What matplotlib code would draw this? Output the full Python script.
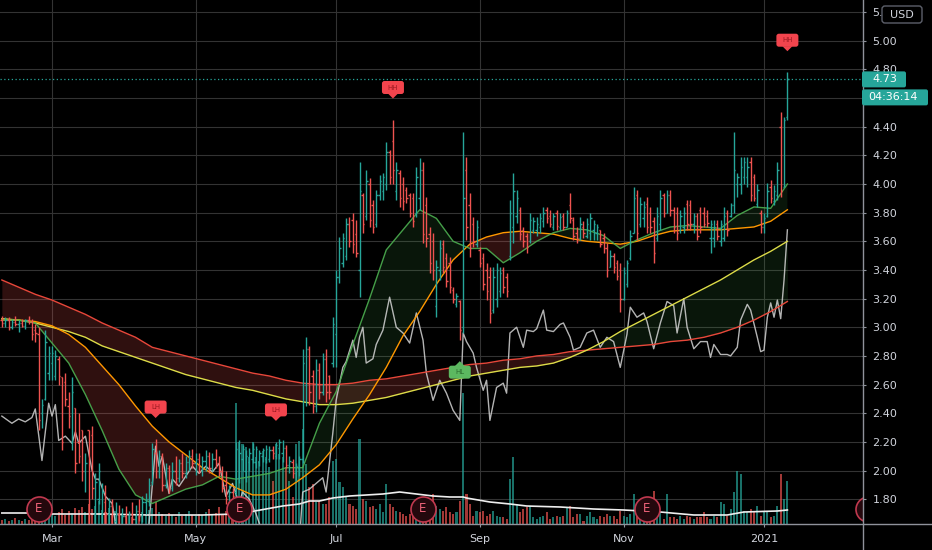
import numpy as np
import pandas as pd
import matplotlib
matplotlib.use("Agg")
import matplotlib.pyplot as plt
from matplotlib.patches import FancyBboxPatch, Polygon
from matplotlib.transforms import IdentityTransform, blended_transform_factory
from matplotlib.lines import Line2D

plt.rcParams['font.family'] = ['DejaVu Sans']

# ---------------- data ----------------
holidays = ["2020-02-17", "2020-04-10", "2020-05-25", "2020-07-03", "2020-09-07",
            "2020-11-26", "2020-12-25", "2021-01-01"]
dates = pd.bdate_range("2020-02-07", "2021-01-13", freq="C", holidays=holidays)

opens = [
    3.05,3.03,3.05,3.00,3.04,3.02,3.03,3.01,3.05,3.04,2.98,2.95,2.40,2.50,2.68,
    2.75,2.66,2.78,2.65,2.62,2.45,2.20,2.44,2.20,2.28,2.00,2.28,2.25,1.70,1.80,1.70,1.78,1.70,1.75,1.65,1.70,1.63,
    1.68,1.60,1.70,1.66,1.72,1.68,1.78,1.80,1.92,2.12,2.00,2.10,1.90,2.02,1.88,2.00,1.95,2.05,1.98,2.06,2.10,
    2.05,2.08,2.00,2.07,2.10,2.02,2.08,2.05,2.00,1.90,1.82,1.85,1.85,1.95,2.08,2.00,2.06,2.08,2.06,2.06,
    2.10,2.08,2.08,2.14,2.10,2.16,2.12,2.16,2.04,2.06,1.98,2.02,2.08,2.60,2.85,2.66,2.45,2.70,2.55,2.78,2.66,2.75,
    2.95,3.35,3.45,3.50,3.72,3.75,3.65,3.40,3.92,3.78,4.00,3.85,3.72,3.92,3.95,4.00,4.22,4.30,3.95,4.08,4.00,3.96,
    3.92,3.90,3.80,3.90,4.10,3.85,3.65,3.60,3.15,3.40,3.58,3.48,3.45,3.26,3.16,3.18,3.00,4.10,3.85,3.72,3.58,
    3.54,3.48,3.40,3.35,3.12,3.20,3.25,3.40,3.35,3.50,3.70,3.78,3.82,3.68,3.64,3.60,3.68,3.68,3.70,3.74,3.82,
    3.78,3.70,3.80,3.70,3.78,3.70,3.85,3.75,3.66,3.62,3.70,3.64,3.66,3.68,3.66,3.68,3.62,3.55,3.42,3.50,3.45,3.40,
    3.20,3.30,3.48,3.66,3.92,3.72,3.76,3.86,3.80,3.74,3.62,3.72,3.92,3.80,3.92,3.82,3.80,3.68,3.70,3.86,
    3.85,3.72,3.78,3.82,3.80,3.78,3.62,3.62,3.72,3.60,3.62,3.80,3.78,3.85,4.00,4.00,4.05,4.05,4.15,4.05,3.86,3.80,
    3.70,3.78,3.98,3.88,3.92,4.40,3.98,4.47]
highs = [
    3.08,3.07,3.07,3.06,3.08,3.05,3.06,3.06,3.08,3.06,3.02,3.00,2.50,2.98,2.87,
    2.87,2.84,2.80,2.65,2.68,2.55,2.65,2.44,2.40,2.28,2.12,2.28,2.31,1.98,2.05,1.91,1.90,1.81,1.80,1.78,1.76,1.74,
    1.75,1.72,1.78,1.76,1.80,1.82,1.84,1.95,2.19,2.22,2.14,2.12,2.05,2.04,2.06,2.10,2.08,2.12,2.10,2.14,2.15,
    2.12,2.12,2.10,2.14,2.13,2.12,2.15,2.10,2.03,2.00,1.90,1.88,2.20,2.21,2.18,2.14,2.16,2.19,2.17,2.14,
    2.16,2.18,2.17,2.17,2.20,2.22,2.21,2.18,2.10,2.08,2.05,2.10,2.85,2.93,2.87,2.70,2.78,2.75,2.82,2.85,2.67,3.07,
    3.40,3.63,3.66,3.76,3.77,3.80,3.75,4.15,3.94,4.10,4.04,3.89,3.96,4.06,4.08,4.29,4.24,4.45,4.15,4.10,4.05,3.98,
    3.94,3.94,4.12,4.18,4.15,3.91,3.70,3.66,3.47,3.61,3.61,3.52,3.49,3.28,3.24,3.19,4.36,4.19,3.94,3.77,3.75,
    3.56,3.52,3.45,3.42,3.42,3.45,3.42,3.42,3.38,3.89,4.08,3.96,3.84,3.70,3.66,3.80,3.77,3.77,3.80,3.84,3.84,
    3.82,3.80,3.82,3.80,3.80,3.82,3.94,3.77,3.70,3.77,3.74,3.76,3.80,3.75,3.72,3.68,3.66,3.59,3.54,3.52,3.47,3.45,
    3.42,3.47,3.68,3.98,3.96,3.91,3.88,3.91,3.84,3.77,3.84,3.96,3.94,3.96,3.96,3.84,3.84,3.82,3.84,3.89,
    3.89,3.80,3.80,3.84,3.84,3.82,3.75,3.75,3.75,3.75,3.84,3.82,3.87,4.36,4.08,4.19,4.19,4.19,4.19,4.07,4.00,3.82,
    3.80,4.01,4.03,3.99,4.15,4.50,4.47,4.78]
lows = [
    3.00,3.00,2.98,2.99,3.01,2.97,3.00,2.99,3.02,2.91,2.90,2.28,2.30,2.49,2.63,
    2.63,2.63,2.60,2.14,2.45,2.30,2.14,1.98,2.05,1.93,1.85,1.55,1.80,1.58,1.77,1.55,1.62,1.60,1.58,1.55,1.58,1.55,
    1.57,1.56,1.62,1.60,1.65,1.64,1.70,1.75,1.90,1.95,1.95,1.86,1.88,1.84,1.86,1.90,1.92,1.95,1.95,2.00,2.02,
    1.97,1.98,1.96,2.00,1.98,2.00,2.02,1.96,1.85,1.77,1.76,1.77,1.83,1.91,2.00,1.92,2.00,2.05,2.02,2.03,
    2.06,2.05,2.06,2.08,2.08,2.08,2.06,2.02,1.98,1.95,1.93,1.96,2.05,2.45,2.46,2.40,2.41,2.50,2.53,2.48,2.50,2.72,
    2.72,3.31,3.42,3.47,3.56,3.52,3.49,3.21,3.66,3.75,3.70,3.66,3.70,3.89,3.89,3.96,4.00,4.00,3.89,3.84,3.82,3.87,
    3.77,3.70,3.77,3.82,3.59,3.56,3.38,3.33,3.07,3.33,3.38,3.28,3.24,3.17,3.14,2.91,2.96,3.61,3.49,3.56,3.56,
    3.42,3.26,3.19,3.03,3.10,3.14,3.21,3.24,3.21,3.47,3.59,3.73,3.61,3.56,3.52,3.59,3.66,3.64,3.66,3.70,3.73,
    3.70,3.68,3.68,3.68,3.68,3.70,3.73,3.61,3.59,3.61,3.62,3.62,3.61,3.61,3.61,3.56,3.52,3.35,3.42,3.38,3.33,3.11,
    3.19,3.28,3.47,3.66,3.61,3.70,3.70,3.66,3.66,3.45,3.60,3.68,3.77,3.80,3.78,3.66,3.61,3.66,3.66,3.68,
    3.68,3.66,3.61,3.66,3.70,3.70,3.52,3.56,3.61,3.57,3.60,3.64,3.77,3.80,3.91,3.93,4.00,3.98,3.88,3.88,3.84,3.66,
    3.66,3.77,3.87,3.85,3.89,3.91,3.98,4.45]
closes = [
    3.03,3.05,3.00,3.04,3.02,3.03,3.01,3.05,3.04,2.95,2.96,2.35,2.46,2.90,2.82,
    2.82,2.80,2.66,2.20,2.50,2.38,2.55,2.05,2.10,2.00,2.05,1.70,1.88,1.92,2.00,1.85,1.70,1.75,1.62,1.70,1.63,1.68,
    1.60,1.70,1.66,1.72,1.68,1.78,1.80,1.90,2.15,2.00,2.10,1.90,2.02,1.88,2.00,1.95,2.05,1.98,2.06,2.10,2.05,
    2.08,2.00,2.07,2.10,2.02,2.08,2.05,2.00,1.88,1.80,1.85,1.82,2.15,2.12,2.15,2.10,2.12,2.15,2.15,2.12,
    2.14,2.15,2.14,2.12,2.18,2.20,2.16,2.04,2.07,1.98,2.03,2.08,2.75,2.85,2.55,2.45,2.70,2.55,2.78,2.55,2.55,3.02,
    3.35,3.55,3.62,3.72,3.60,3.58,3.52,3.95,3.72,4.02,3.75,3.70,3.92,4.02,4.05,4.22,4.05,4.10,4.10,3.90,3.88,3.90,
    3.80,3.74,4.05,4.10,3.65,3.62,3.45,3.40,3.42,3.55,3.42,3.32,3.28,3.20,3.22,2.98,3.90,3.70,3.55,3.60,3.70,
    3.45,3.30,3.25,3.10,3.35,3.40,3.38,3.28,3.25,3.80,3.95,3.90,3.65,3.60,3.56,3.75,3.74,3.72,3.76,3.80,3.76,
    3.72,3.78,3.71,3.77,3.70,3.80,3.76,3.64,3.62,3.72,3.66,3.72,3.76,3.72,3.70,3.58,3.55,3.40,3.50,3.42,3.36,3.20,
    3.38,3.45,3.64,3.90,3.66,3.86,3.84,3.70,3.70,3.52,3.78,3.90,3.80,3.92,3.82,3.70,3.66,3.78,3.80,3.72,
    3.72,3.78,3.64,3.70,3.72,3.73,3.72,3.70,3.64,3.72,3.78,3.68,3.85,4.10,4.05,4.12,4.15,4.12,3.92,3.90,3.96,3.70,
    3.76,3.95,3.90,3.95,4.10,3.95,4.45,4.73]
volume = [
    4,5,3,4,6,4,3,5,4,6,8,14,9,11,10,
    10,8,12,15,9,13,11,16,14,17,12,20,15,18,23,14,12,16,10,13,9,11,
    8,10,7,9,8,12,10,14,16,22,12,10,8,11,9,7,12,8,10,13,9,
    8,10,9,12,15,9,11,17,10,13,9,12,121,82,80,77,67,82,67,63,
    73,67,57,43,80,70,67,57,43,27,80,83,95,60,37,40,22,23,20,20,27,63,
    65,42,37,28,20,18,15,85,25,23,17,18,15,20,12,40,20,17,13,12,10,8,
    10,12,18,15,12,17,17,30,18,15,13,17,12,10,12,23,131,30,20,8,13,
    12,13,8,10,13,8,7,7,5,45,67,20,12,15,17,18,7,5,7,8,12,
    5,7,8,7,8,17,18,7,10,10,3,8,12,7,5,8,7,10,8,8,5,13,
    8,7,10,30,8,5,7,8,10,33,13,13,5,30,7,7,5,8,5,8,
    7,5,7,7,12,7,5,8,7,22,20,8,15,32,53,50,13,12,15,12,18,8,
    12,13,7,8,18,50,25,43]

# moving averages read at every 5th bar
ma_idx = [0,5,10,15,20,25,30,35,40,45,50,55,60,65,70,75,80,85,90,95,100,105,110,115,
          120,125,130,135,140,145,150,155,160,165,170,175,180,185,190,195,200,205,210,215,
          220,225,230,235]
ma_fast = [3.05,3.05,3.03,2.89,2.75,2.53,2.28,2.01,1.83,1.77,1.82,1.87,1.90,1.96,1.94,1.96,
           1.98,2.02,2.02,2.33,2.55,2.88,3.20,3.54,3.68,3.82,3.76,3.60,3.55,3.55,3.45,3.52,
           3.60,3.66,3.69,3.68,3.64,3.55,3.61,3.66,3.70,3.71,3.70,3.69,3.78,3.84,3.83,4.00]
ma_mid = [3.05,3.05,3.04,3.01,2.95,2.86,2.73,2.60,2.45,2.31,2.20,2.11,2.02,1.95,1.88,1.83,
          1.83,1.87,1.95,2.04,2.18,2.36,2.53,2.72,2.94,3.11,3.30,3.47,3.58,3.63,3.66,3.67,
          3.66,3.65,3.62,3.60,3.59,3.58,3.60,3.64,3.67,3.68,3.68,3.68,3.69,3.70,3.74,3.82]
ma_slow = [3.06,3.05,3.03,3.00,2.97,2.93,2.87,2.83,2.79,2.75,2.71,2.67,2.64,2.61,2.58,2.56,
           2.53,2.50,2.48,2.46,2.46,2.47,2.49,2.51,2.54,2.57,2.60,2.63,2.66,2.68,2.70,2.72,
           2.73,2.75,2.79,2.84,2.90,2.97,3.03,3.09,3.15,3.21,3.27,3.33,3.40,3.47,3.53,3.60]
ma_long = [3.33,3.28,3.23,3.19,3.14,3.09,3.03,2.98,2.93,2.86,2.83,2.80,2.77,2.74,2.71,2.68,
           2.66,2.63,2.61,2.60,2.60,2.61,2.63,2.64,2.66,2.68,2.70,2.72,2.74,2.75,2.77,2.78,
           2.80,2.81,2.83,2.84,2.85,2.86,2.87,2.88,2.90,2.91,2.93,2.96,3.00,3.05,3.11,3.18]

# comparison (white) line
cmp_idx = [0,3,5,7,9,10,12,14,15,16,17,19,21,22,23,25,27,28,29,31,33,35,43,44,46,47,48,50,51,
           53,55,57,59,61,63,65,67,69,71,72,74,76,79,89,90,92,94,96,97,99,100,102,103,105,106,
           107,108,109,111,112,114,116,118,120,122,124,126,127,129,131,133,135,137,138,139,141,
           142,144,145,146,148,150,151,152,154,156,157,159,160,162,163,165,167,168,170,171,173,
           175,177,179,181,183,185,187,188,190,192,193,195,197,199,201,202,204,205,207,209,211,
           212,213,215,217,218,220,221,223,224,226,227,228,229,230,231,232,233,234,235]
cmp_val = [2.38,2.33,2.36,2.34,2.37,2.43,2.07,2.47,2.38,2.46,2.21,2.24,2.19,2.27,2.19,2.24,
           2.00,1.94,1.94,1.82,1.77,1.50,1.50,1.62,2.17,2.03,2.10,1.84,1.94,1.89,1.96,2.03,
           1.98,2.03,1.99,2.05,1.82,1.91,1.77,1.85,1.80,1.70,1.50,1.50,1.85,1.87,1.91,1.95,
           1.85,2.26,2.49,2.72,2.76,2.91,2.79,2.93,3.00,2.75,2.78,2.88,2.98,3.21,3.00,2.96,
           2.89,3.10,2.91,2.68,2.49,2.63,2.54,2.42,2.35,2.96,2.90,2.82,2.72,2.56,2.63,2.35,
           2.58,2.61,2.54,2.96,3.00,2.86,2.98,2.97,2.99,3.12,2.98,2.97,3.02,3.03,2.93,2.84,
           2.86,2.96,2.98,2.86,2.93,2.90,2.72,2.95,3.14,3.07,3.10,3.04,2.85,3.03,3.18,3.15,
           2.96,3.20,3.00,2.85,2.90,2.90,2.79,2.88,2.81,2.81,2.80,2.86,3.05,3.16,3.12,2.93,
           2.83,2.84,3.07,3.17,3.07,3.19,3.06,3.33,3.68]

# volume moving average
vma_idx = [0,10,15,29,44,60,70,74,79,84,89,92,95,99,104,114,119,124,129,134,138,139,146,
           152,157,167,177,186,197,207,217,222,232,235]
vma_val = [11,11,10,10,9,9,10,12,15,18,20,23,23,26,28,30,32,30,28,27,27,26,22,20,18,17,15,
           14,12,9,9,12,13,14]

# pivot labels and earnings events (bar numbers)
sig_idx = [46, 82, 117, 137, 235]
sig_kind = ["LH", "LH", "HH", "HL", "HH"]
earn_idx = [11, 71, 126, 193, 259]

price_ticks = [1.80,2.00,2.20,2.40,2.60,2.80,3.00,3.20,3.40,3.60,3.80,4.00,4.20,4.40,4.60,4.80,5.00,5.20]
hidden_ticks = [4.60]          # covered by the countdown tag on the reference
month_keys = ["2020-03", "2020-05", "2020-07", "2020-09", "2020-11", "2021-01"]
month_labels = ["Mar", "May", "Jul", "Sep", "Nov", "2021"]
countdown = "04:36:14"
currency = "USD"

# ---------------- styling ----------------
TEAL = '#26a69a'
RED = '#ef5350'
GRID = '#333333'
TXT = '#d1d4dc'
AXLINE = '#8f929b'
C_FAST = '#4caf50'
C_MID = '#ff9800'
C_SLOW = '#dcdc48'
C_LONG = '#e8473a'

W, H = 932, 550
PR, PB = 862, 524
fig = plt.figure(figsize=(W / 100, H / 100), dpi=100, facecolor='black')
ax = fig.add_axes([0, (H - PB) / H, PR / W, PB / H])
vol_ax = ax.twinx()
ax.set_zorder(2)
vol_ax.set_zorder(1)
ax.patch.set_visible(False)
vol_ax.patch.set_visible(False)
for a in (ax, vol_ax):
    for s in a.spines.values():
        s.set_visible(False)

ax.set_xlim(-0.556, 257.32)
ax.set_ylim(1.627, 5.284)
vol_ax.set_ylim(0, PB)
vol_ax.yaxis.set_visible(False)

n = len(dates)
idx = np.arange(n)
o = np.array(opens); h = np.array(highs); l = np.array(lows); c = np.array(closes)
up = c >= o
cols = np.where(up, TEAL, RED)

month_pos = [int(np.argmax(dates.strftime('%Y-%m') == k)) for k in month_keys]

# grid (on lower axes)
bt = blended_transform_factory(vol_ax.transAxes, ax.transData)
for p in price_ticks:
    vol_ax.plot([0, 1], [p, p], transform=bt, color=GRID, lw=0.8, zorder=0)
for m in month_pos:
    vol_ax.axvline(m, color=GRID, lw=0.8, zorder=0)

# volume
vol_ax.bar(idx, volume, width=0.62, color=cols, alpha=0.68, linewidth=0, zorder=1)
vol_ax.plot(vma_idx, vma_val, color='#eeeeee', lw=1.2, zorder=2)

# MA fills
mi = np.array(ma_idx)
f = np.array(ma_fast); m_ = np.array(ma_mid); s_ = np.array(ma_slow); lg = np.array(ma_long)
ax.fill_between(mi, f, m_, where=f >= m_, interpolate=True, color=C_FAST, alpha=0.13, lw=0, zorder=1)
ax.fill_between(mi, f, m_, where=f < m_, interpolate=True, color=RED, alpha=0.20, lw=0, zorder=1)
ax.fill_between(mi, s_, lg, where=lg >= s_, interpolate=True, color=RED, alpha=0.20, lw=0, zorder=1)
ax.fill_between(mi, s_, lg, where=lg < s_, interpolate=True, color=C_FAST, alpha=0.13, lw=0, zorder=1)

# comparison line
ax.plot(cmp_idx, cmp_val, color='#d4d4d4', lw=1.0, alpha=0.85, zorder=2)

# MA lines
ax.plot(mi, lg, color=C_LONG, lw=1.0, zorder=3)
ax.plot(mi, s_, color=C_SLOW, lw=1.0, zorder=3)
ax.plot(mi, m_, color=C_MID, lw=1.0, zorder=3)
ax.plot(mi, f, color=C_FAST, lw=1.0, alpha=0.9, zorder=3)

# OHLC bars
ax.vlines(idx, l, h, colors=cols, lw=1.0, zorder=4)
ax.hlines(o, idx - 0.42, idx, colors=cols, lw=1.0, zorder=4)
ax.hlines(c, idx, idx + 0.42, colors=cols, lw=1.0, zorder=4)

# last price dotted line
last = closes[-1]
ax.axhline(last, color=TEAL, lw=0.9, ls=(0, (1, 2)), zorder=3)

# earnings markers
et = blended_transform_factory(ax.transData, vol_ax.transData)
for e in earn_idx:
    ax.plot([e], [15], marker='o', markersize=18, mfc='#24080d', mec='#c0394f', mew=1.2,
            transform=et, zorder=6, clip_on=True)
    ax.text(e, 15, "E", transform=et, color='#f0647a', fontsize=8.5, ha='center',
            va='center', zorder=7, clip_on=True)

# axes ticks
ax.yaxis.tick_right()
ax.set_yticks(price_ticks)
ax.set_yticklabels(["" if p in hidden_ticks else f"{p:.2f}" for p in price_ticks])
ax.tick_params(axis='y', right=True, left=False, labelright=True, labelleft=False,
               length=3, width=0.8, color=AXLINE, pad=4.5, labelsize=8, labelcolor=TXT)
ax.set_xticks(month_pos)
ax.set_xticklabels(month_labels)
ax.tick_params(axis='x', length=2.5, width=0.8, color=AXLINE, pad=5, labelsize=8,
               labelcolor=TXT)

ID = IdentityTransform()
# axis border lines
fig.add_artist(Line2D([PR + 0.5, PR + 0.5], [0, H], transform=ID, color=AXLINE, lw=1.0, zorder=8))
fig.add_artist(Line2D([0, W], [H - PB, H - PB], transform=ID, color=AXLINE, lw=1.0, zorder=8))

# pivot labels
for i, k in zip(sig_idx, sig_kind):
    if k in ("HH", "LH"):
        xd, yd = ax.transData.transform((i, highs[i]))
        cy = yd + 32
        fc, tc = '#f2444d', '#9c1a22'
        tri = [(xd - 5, cy - 6), (xd + 5, cy - 6), (xd, cy - 11)]
    else:
        xd, yd = ax.transData.transform((i, lows[i]))
        cy = yd - 32
        fc, tc = '#5cb860', '#2b6b2e'
        tri = [(xd - 5, cy + 6), (xd + 5, cy + 6), (xd, cy + 11)]
    fig.add_artist(FancyBboxPatch((xd - 11, cy - 6.5), 22, 13,
                                  boxstyle='round,pad=0,rounding_size=2.5',
                                  transform=ID, fc=fc, ec='none', zorder=9))
    fig.add_artist(Polygon(tri, closed=True, transform=ID, fc=fc, ec='none', zorder=9))
    fig.text(xd, cy, k, transform=ID, color=tc, fontsize=5, ha='center', va='center', zorder=10)

# last price + countdown tags
_, yl = ax.transData.transform((0, last))
fig.add_artist(FancyBboxPatch((PR, yl - 8), 44, 16, boxstyle='round,pad=0,rounding_size=2',
                              transform=ID, fc=TEAL, ec='none', zorder=9))
fig.text(PR + 10, yl, f"{last:.2f}", transform=ID, color='white', fontsize=8,
         ha='left', va='center', zorder=10)
fig.add_artist(FancyBboxPatch((PR, yl - 26), 66, 16, boxstyle='round,pad=0,rounding_size=2',
                              transform=ID, fc=TEAL, ec='none', zorder=9))
fig.text(PR + 6, yl - 18, countdown, transform=ID, color='white', fontsize=8,
         ha='left', va='center', zorder=10)

# currency box
fig.add_artist(FancyBboxPatch((882, H - 23), 40, 17, boxstyle='round,pad=0,rounding_size=3',
                              transform=ID, fc='black', ec='#5d606b', lw=1.0, zorder=9))
fig.text(902, H - 14.5, currency, transform=ID, color=TXT, fontsize=8,
         ha='center', va='center', zorder=10)

fig.savefig("out.png", dpi=100, facecolor='black')
